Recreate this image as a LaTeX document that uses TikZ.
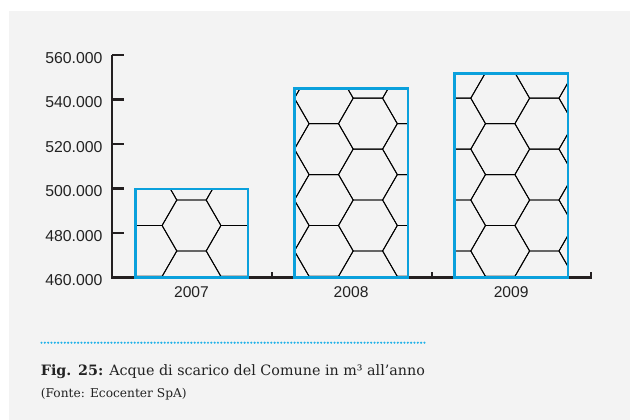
\documentclass[tikz,border=0pt]{standalone}
\usepackage{fontspec}
\setmainfont{DejaVu Serif}
\newfontfamily\axisfont{Liberation Sans}
\definecolor{panelbg}{HTML}{F3F3F3}
\definecolor{barblue}{HTML}{0AA0DC}
\definecolor{dotblue}{HTML}{22B2E8}
\definecolor{axisdark}{HTML}{231F20}
\definecolor{labeldark}{HTML}{222222}
\newcommand{\hextiling}{%
  \foreach \i in {-2,...,10} {
    \foreach \j in {-5,...,3} {
      \pgfmathsetmacro\cx{191.5+\i*44.1}
      \pgfmathsetmacro\cy{225.5+(\j-0.5*mod(\i,2))*50.92}
      \draw[hexline] (\cx+29.4,\cy) -- (\cx+14.7,\cy+25.46) -- (\cx-14.7,\cy+25.46)
        -- (\cx-29.4,\cy) -- (\cx-14.7,\cy-25.46) -- (\cx+14.7,\cy-25.46) -- cycle;
    }
  }%
}
\begin{document}
\begin{tikzpicture}[x=1pt,y=-1pt,
  hexline/.style={draw=black,line width=0.9pt,line join=miter},
  barframe/.style={draw=barblue,line width=2.8pt},
  axisline/.style={draw=axisdark,line width=2.8pt},
  ticklabel/.style={font=\axisfont\fontsize{15.8}{18}\selectfont,text=labeldark,inner sep=0pt},
  yearlabel/.style={font=\axisfont\fontsize{15.6}{18}\selectfont,text=labeldark,inner sep=0pt,anchor=base},
  captionmain/.style={font=\fontsize{14.3}{17}\selectfont,text=labeldark,inner sep=0pt,anchor=base west},
  captionsrc/.style={font=\fontsize{12.2}{15}\selectfont,text=labeldark,inner sep=0pt,anchor=base west},
  dotline/.style={draw=dotblue,line width=2.4pt,line cap=round,dash pattern=on 0pt off 3.33pt}]
\useasboundingbox (0,0) rectangle (630,420);
\fill[white] (0,0) rectangle (630,420);
\fill[panelbg] (9,11) rectangle (630,420);

% bars: hexagon pattern clipped
\begin{scope}
  \clip (135.3,189) rectangle (248,277.5);
  \hextiling
\end{scope}
\begin{scope}
  \clip (294.2,88.8) rectangle (408,277.5);
  \hextiling
\end{scope}
\begin{scope}
  \clip (454.2,73.3) rectangle (568,277.5);
  \hextiling
\end{scope}

% axes
\coordinate (ytop) at (112,55);
\coordinate (origin) at (112,277.5);
\coordinate (xend) at (591.7,277.5);
\draw[axisline] (ytop) -- (origin) -- (xend);
\foreach \k/\v in {0/460.000,1/480.000,2/500.000,3/520.000,4/540.000,5/560.000} {
  \pgfmathsetmacro\ty{277.5-\k*44.5}
  \coordinate (yt\k) at (112,\ty);
  \coordinate (ytr\k) at (123.5,\ty);
  \draw[axisline] (yt\k) -- (ytr\k);
  \node[ticklabel,anchor=base east] (ylab\k) at (102.7,\ty+8.3) {\v};
}
\foreach \n/\xx in {a/271.5,b/431.7,c/590.7} {
  \coordinate (xt\n) at (\xx,277.5);
  \coordinate (xtt\n) at (\xx,271.8);
  \draw[axisdark,line width=2pt] (xt\n) -- (xtt\n);
}

% bar frames
\draw[barframe] (135.3,189) rectangle (248,277.5);
\draw[barframe] (294.2,88.8) rectangle (408,277.5);
\draw[barframe] (454.2,73.3) rectangle (568,277.5);

% year labels
\node[yearlabel] (y2007) at (191.5,297.3) {2007};
\node[yearlabel] (y2008) at (351.1,297.3) {2008};
\node[yearlabel] (y2009) at (511.1,297.3) {2009};

% caption
\coordinate (dotA) at (41.5,342.7);
\coordinate (dotB) at (425.5,342.7);
\draw[dotline] (dotA) -- (dotB);
\node[captionmain] (cap1) at (40.7,375) {\textbf{Fig. 25:} Acque di scarico del Comune in m³ all’anno};
\node[captionsrc] (cap2) at (40.7,397) {(Fonte: Ecocenter SpA)};
\end{tikzpicture}
\end{document}
